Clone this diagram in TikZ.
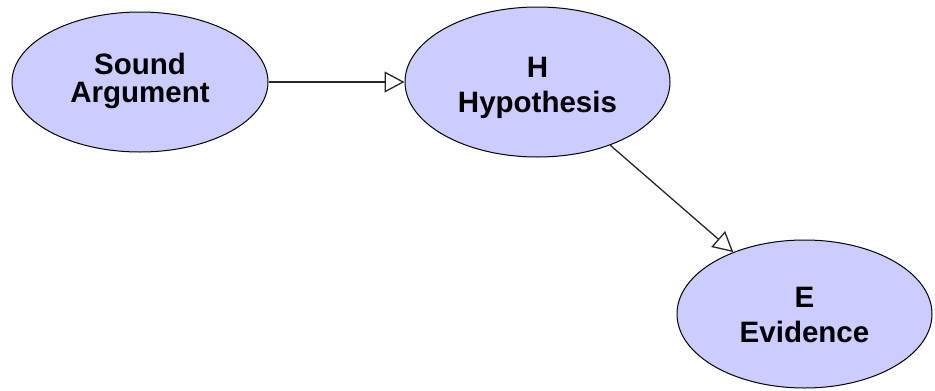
\documentclass[tikz,border=0pt]{standalone}
\usepackage{fontspec}
\setmainfont{Liberation Sans}
\usetikzlibrary{arrows.meta,shapes.geometric}
\definecolor{nodefill}{RGB}{204,204,255}
\begin{document}
\begin{tikzpicture}[x=1pt,y=-1pt,
  state/.style={ellipse, draw=black, line width=1pt, fill=nodefill, inner sep=0pt},
  caption/.style={inner sep=0pt, align=center, font=\bfseries\fontsize{29.5}{35}\selectfont},
  link/.style={draw=black!85, line width=1.3pt,
    -{Triangle[open, length=20pt, width=21pt, line width=1.3pt]}}]
\useasboundingbox (0,0) rectangle (935,391);
% the three variables
\node[state, minimum width=256pt, minimum height=140pt] (sa) at (140,82) {};
\node[state, minimum width=265pt, minimum height=150pt] (h) at (537.5,82) {};
\node[state, minimum width=255pt, minimum height=148pt] (e) at (804.5,314) {};
% their names
\node[caption, font=\bfseries\fontsize{29.5}{28}\selectfont] (sat) at (140,81) {Sound\\Argument};
\node[caption] (ht) at (537.5,88) {H\\Hypothesis};
\node[caption] (et) at (804.5,315) {E\\Evidence};
% dependencies
\draw[link] (sa) -- (h);
\draw[link] (h) -- (e);
\end{tikzpicture}
\end{document}
